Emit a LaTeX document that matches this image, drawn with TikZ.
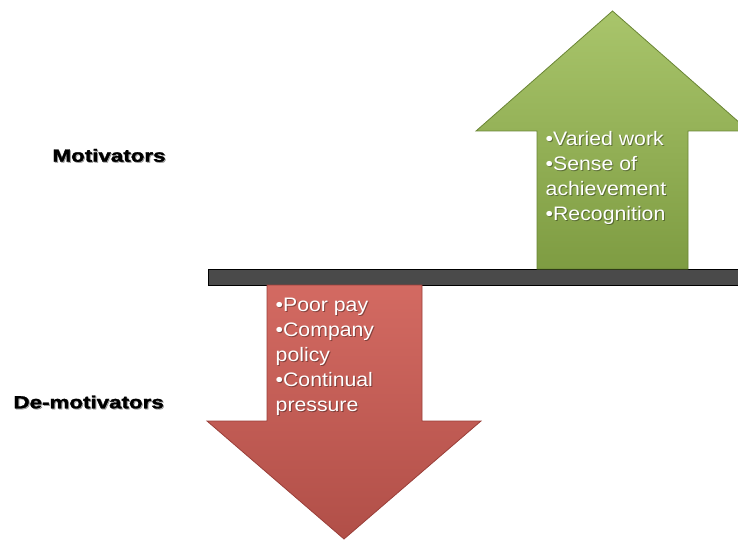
\documentclass[tikz,border=0pt]{standalone}
\usepackage{fontspec}
\setmainfont{Liberation Sans}
\newfontfamily\heavyfont[FakeBold=1.6]{Liberation Sans Bold}
\definecolor{gtop}{HTML}{A9C56B}
\definecolor{gbot}{HTML}{7E9C42}
\definecolor{gedge}{HTML}{6A8535}
\definecolor{rtop}{HTML}{D36A62}
\definecolor{rbot}{HTML}{B14F48}
\definecolor{redge}{HTML}{9A3F39}
\definecolor{barfill}{HTML}{4A4A4A}
\tikzset{
  armtext/.style={anchor=base west, inner sep=0pt, text=white,
    font=\fontsize{19.5}{25}\selectfont},
  armshadow/.style={anchor=base west, inner sep=0pt, text=black, opacity=0.35,
    font=\fontsize{19.5}{25}\selectfont},
  sidelabel/.style={anchor=base west, inner sep=0pt, text=black,
    font=\fontsize{17.6}{20}\heavyfont},
  sideshadow/.style={anchor=base west, inner sep=0pt, text=black, opacity=0.3,
    font=\fontsize{17.6}{20}\heavyfont},
}
\newcommand{\wtxt}[1]{\scalebox{1.09}[1]{#1}}
\newcommand{\btxt}[1]{\scalebox{1.27}[1]{#1}}
\begin{document}
\begin{tikzpicture}[x=1pt,y=-1pt]
\useasboundingbox (0,0) rectangle (738,540);
\clip (0,0) rectangle (738,540);
% bar
\path[fill=barfill, draw=black, line width=1pt] (208,269) rectangle (745,285);
% green up arrow
\path[top color=gtop, bottom color=gbot, draw=gedge, line width=0.8pt, line join=miter]
  (537,269) -- (537,131) -- (476,131) -- (612.5,11) -- (749,131) -- (688,131) -- (688,269) -- cycle;
% red down arrow
\path[top color=rtop, bottom color=rbot, draw=redge, line width=0.8pt, line join=miter]
  (267,285) -- (267,421) -- (207,421) -- (344,539) -- (481,421) -- (422,421) -- (422,285) -- cycle;
% green arrow text
\foreach \t/\y [count=\i] in {{•Varied work}/145.7, {•Sense of}/170.7, {achievement}/195.7, {•Recognition}/220.7}{
  \node[armshadow] (gs\i) at (546.5,\y+1) {\wtxt{\t}};
  \node[armtext] (g\i) at (545.5,\y) {\wtxt{\t}};
}
% red arrow text
\foreach \t/\y [count=\i] in {{•Poor pay}/311.7, {•Company}/336.7, {policy}/361.7, {•Continual}/386.7, {pressure}/411.7}{
  \node[armshadow] (rs\i) at (276.5,\y+1) {\wtxt{\t}};
  \node[armtext] (r\i) at (275.5,\y) {\wtxt{\t}};
}
% side labels
\node[sideshadow] (motS) at (53.3,162.7) {\btxt{Motivators}};
\node[sidelabel] (mot) at (52.3,161.7) {\btxt{Motivators}};
\node[sideshadow] (demotS) at (14.3,409.3) {\btxt{De-motivators}};
\node[sidelabel] (demot) at (13.3,408.3) {\btxt{De-motivators}};
\end{tikzpicture}
\end{document}
